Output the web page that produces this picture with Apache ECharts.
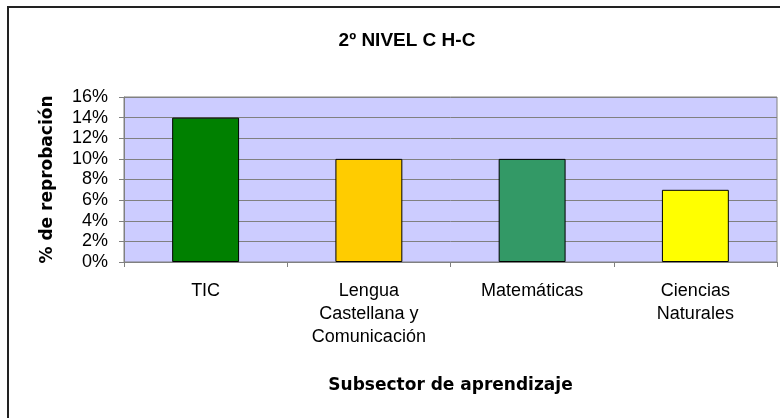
<!DOCTYPE html>
<html>
<head>
<meta charset="utf-8">
<title>2º NIVEL C H-C</title>
<script src="https://cdn.jsdelivr.net/npm/echarts@6/dist/echarts.min.js"></script>
<style>
  html, body { margin: 0; padding: 0; background: #ffffff; }
  #chart { width: 780px; height: 418px; }
</style>
</head>
<body>
<div id="chart"></div>
<script>
// Subjects and their failure rate (%)
const categories = ['TIC', 'Lengua\nCastellana y\nComunicación', 'Matemáticas', 'Ciencias\nNaturales'];
const values = [14, 10, 10, 7];
const barColors = ['#008000', '#FFCC00', '#339966', '#FFFF00'];
const yTicks = [0, 2, 4, 6, 8, 10, 12, 14, 16];

const chart = echarts.init(document.getElementById('chart'), null, { renderer: 'canvas' });

chart.setOption({
  backgroundColor: '#ffffff',
  animation: false,
  title: {
    text: '2º NIVEL C H-C',
    left: 402,
    top: 26,
    textAlign: 'center',
    textStyle: {
      fontFamily: 'Liberation Sans, Arial, sans-serif',
      fontWeight: 'bold',
      fontSize: 19,
      color: '#000000'
    }
  },
  graphic: [{
    type: 'rect',
    shape: { x: 8, y: 7, width: 800, height: 440 },
    style: { fill: 'none', stroke: '#222222', lineWidth: 2 },
    silent: true,
    z: 10
  }],
  grid: {
    left: 124,
    right: 3,
    top: 97,
    bottom: 156,
    show: true,
    backgroundColor: '#CCCCFF',
    borderColor: '#808080',
    borderWidth: 1
  },
  xAxis: {
    type: 'category',
    data: categories,
    name: 'Subsector de aprendizaje',
    nameLocation: 'middle',
    nameGap: 115,
    nameTextStyle: {
      fontFamily: 'DejaVu Sans, sans-serif',
      fontWeight: 'bold',
      fontSize: 17,
      color: '#000000'
    },
    axisLine: { show: true, lineStyle: { color: '#808080', width: 1 } },
    axisTick: { show: true, length: 5, alignWithLabel: false, lineStyle: { color: '#808080' } },
    axisLabel: {
      margin: 18,
      fontFamily: 'Liberation Sans, Arial, sans-serif',
      fontSize: 18,
      lineHeight: 23,
      color: '#000000',
      interval: 0
    }
  },
  yAxis: {
    type: 'value',
    min: yTicks[0],
    max: yTicks[yTicks.length - 1],
    interval: 2,
    name: '% de reprobación',
    nameLocation: 'middle',
    nameRotate: 90,
    nameGap: 68,
    nameTextStyle: {
      fontFamily: 'DejaVu Sans, sans-serif',
      fontWeight: 'bold',
      fontSize: 17,
      color: '#000000'
    },
    axisLine: { show: true, lineStyle: { color: '#808080', width: 1 } },
    axisTick: { show: true, length: 5, lineStyle: { color: '#808080' } },
    axisLabel: {
      margin: 16,
      formatter: v => v + '%',
      fontFamily: 'Liberation Sans, Arial, sans-serif',
      fontSize: 18,
      color: '#000000'
    },
    splitLine: { show: true, lineStyle: { color: '#808080', width: 1 } }
  },
  series: [{
    type: 'bar',
    barWidth: '41%',
    data: values.map((v, i) => ({
      value: v,
      itemStyle: { color: barColors[i] }
    })),
    itemStyle: { borderColor: '#000000', borderWidth: 1 },
    label: { show: false }
  }]
});
</script>
</body>
</html>
